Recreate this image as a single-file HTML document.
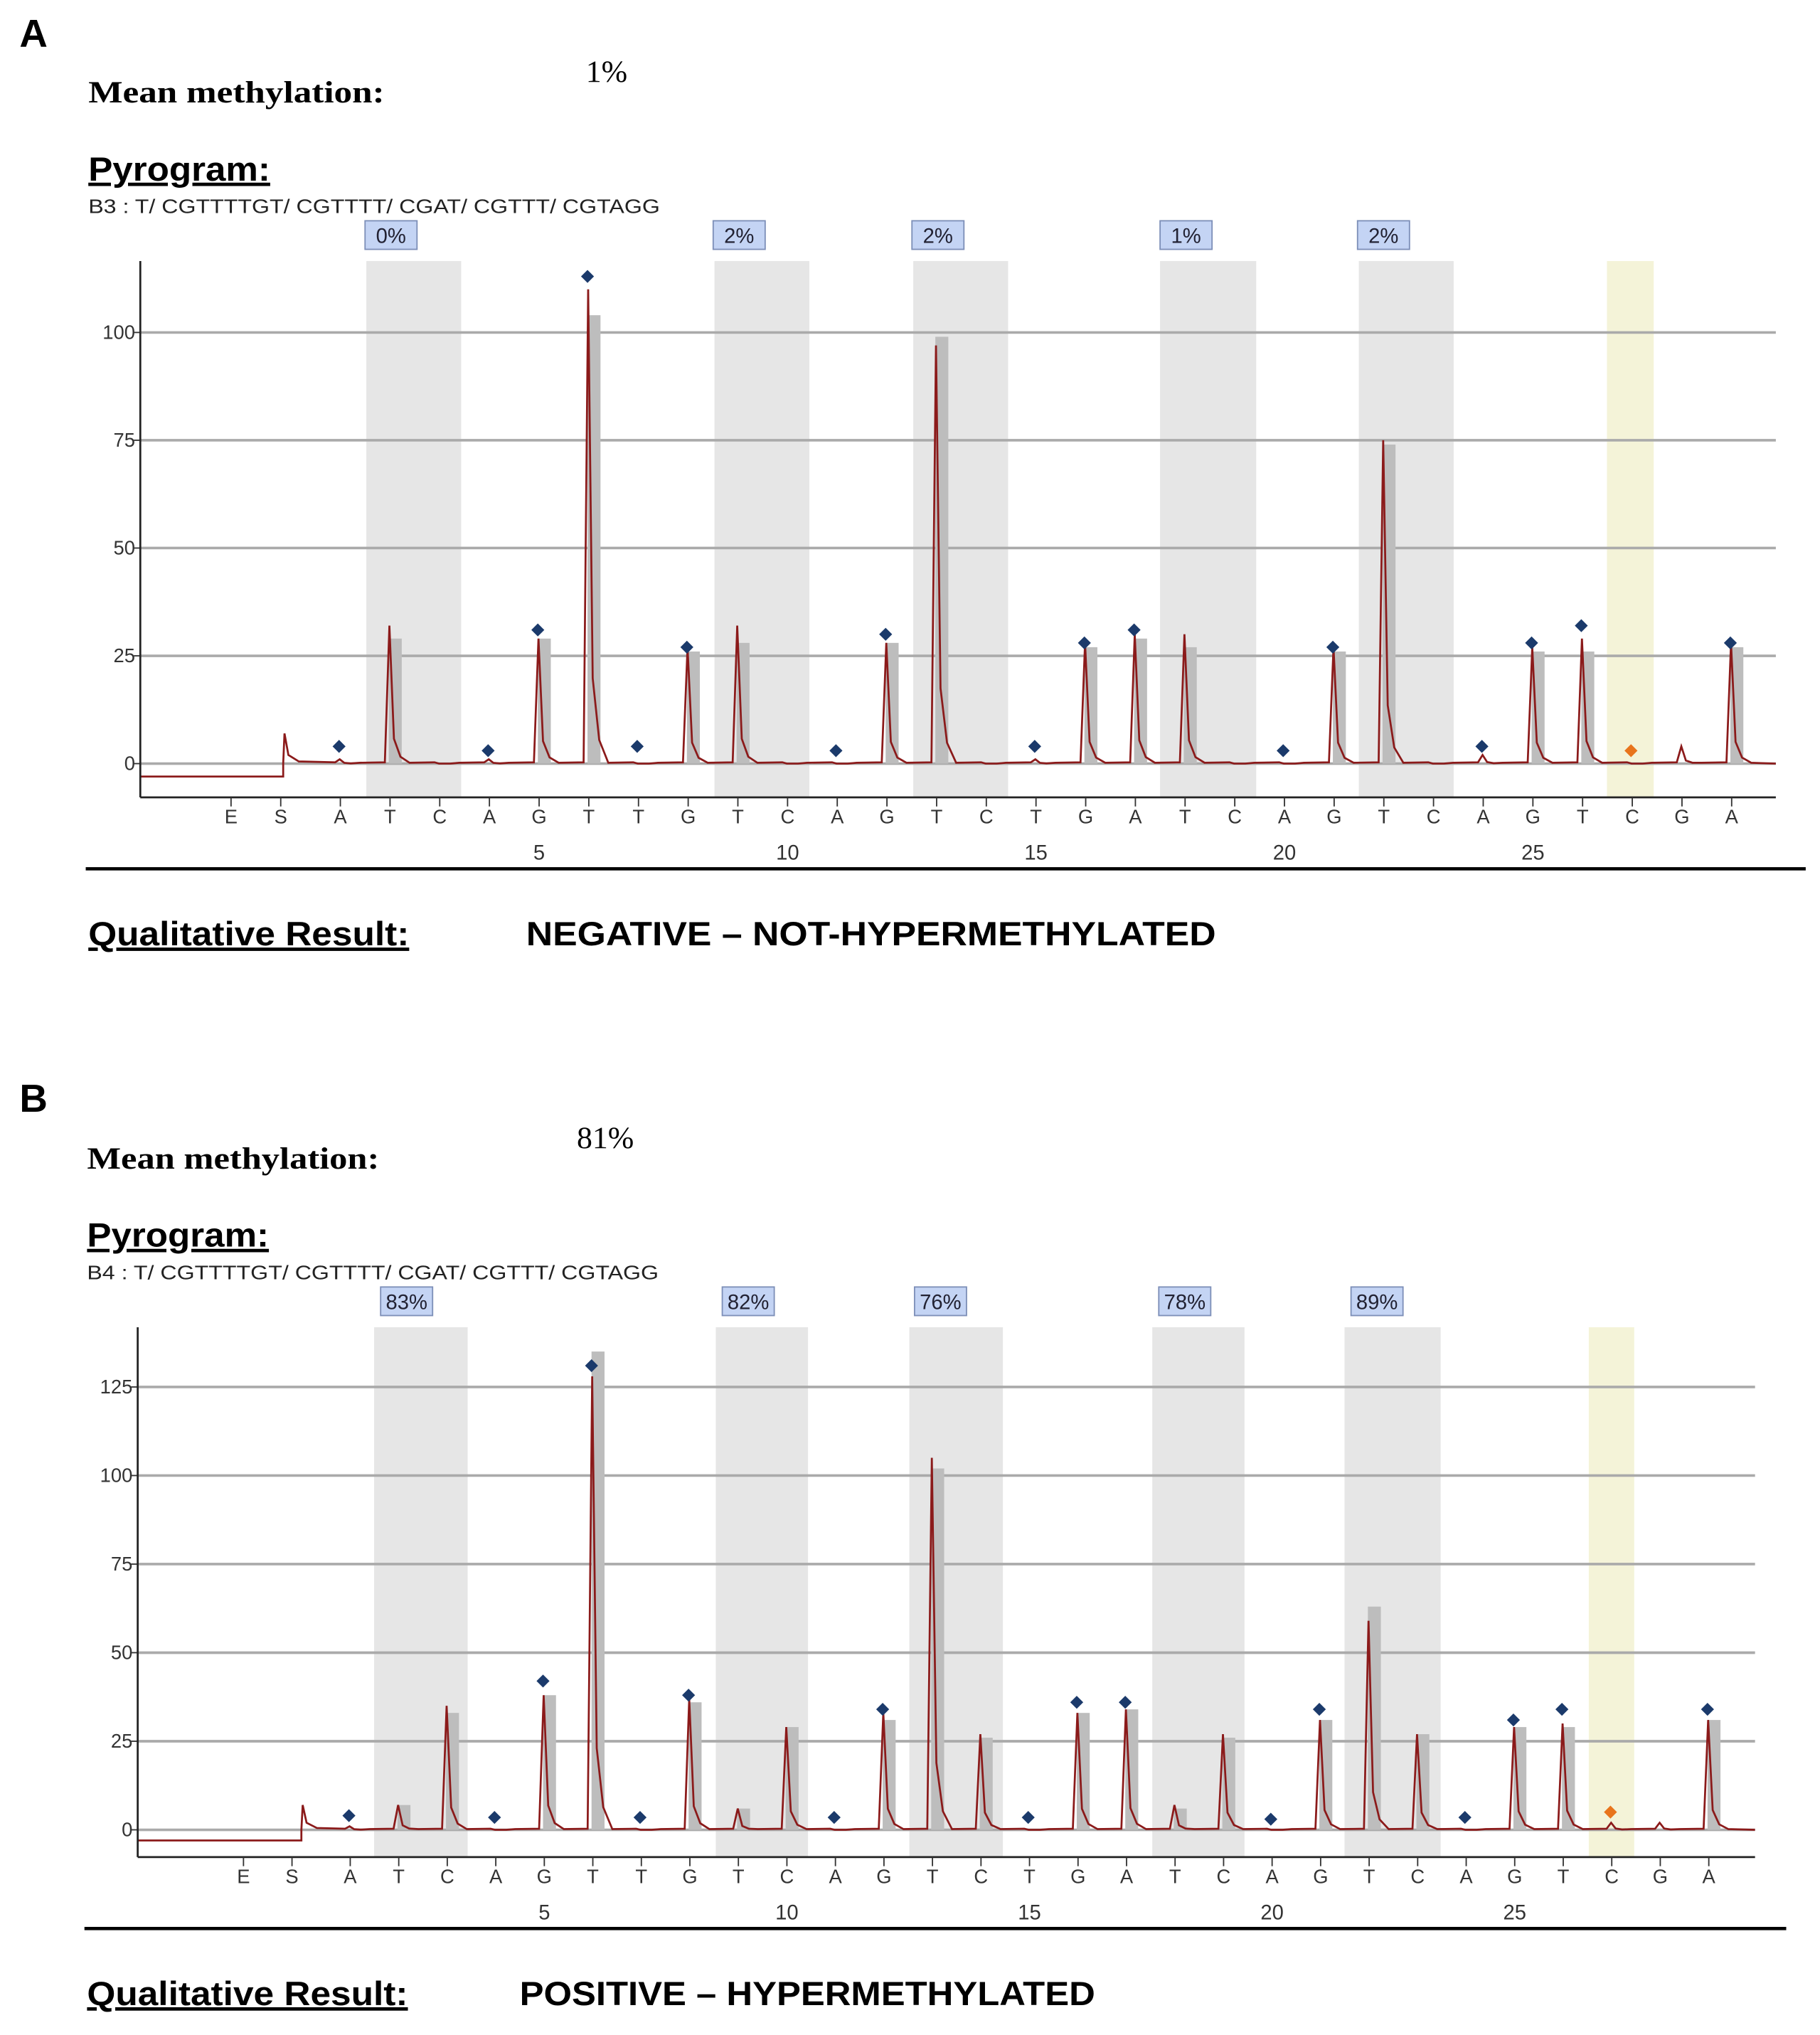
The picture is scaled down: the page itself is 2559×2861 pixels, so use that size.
<!DOCTYPE html>
<html><head><meta charset="utf-8"><style>
html,body{margin:0;padding:0;background:#fff;}
svg{display:block;}
</style></head><body>
<svg id="fig" width="2559" height="2861" viewBox="0 0 1401 1567" preserveAspectRatio="none" xmlns="http://www.w3.org/2000/svg"></svg>
<script>
// ---- shared data ----
const dispensation = ["E","S","A","T","C","A","G","T","T","G","T","C","A","G","T","C","T","G","A","T","C","A","G","T","C","A","G","T","C","G","A"];
const numberTicks = [5,10,15,20,25];
// Panel A
const traceA = [1,32,0,1,29,110,0,27,32,0,0,28,97,0,1,28,30,30,0,0,27,75,0,2,27,29,0,4,28];
const barA   = [0,29,0,0,29,104,0,26,28,0,0,28,99,0,0,27,29,27,0,0,26,74,0,0,26,26,0,0,27];
const diamA  = [4,null,null,3,31,113,4,27,null,null,3,30,null,null,4,28,31,null,null,3,27,null,null,4,28,32,3,null,28];
const pctA = ["0%","2%","2%","1%","2%"];
const yTicksA = [0,25,50,75,100];
// Panel B
const traceB = [1,7,35,0,38,128,0,37,6,29,0,33,105,27,0,33,34,7,27,0,31,59,27,0,29,30,2,2,31];
const barB   = [0,7,33,0,38,135,0,36,6,29,0,31,102,26,0,33,34,6,26,0,31,63,27,0,29,29,0,0,31];
const diamB  = [4,null,null,3.5,42,131,3.5,38,null,null,3.5,34,null,null,3.5,36,36,null,null,3,34,null,null,3.5,31,34,5,null,34];
const pctB = ["83%","82%","76%","78%","89%"];
const yTicksB = [0,25,50,75,100,125];

const NS="http://www.w3.org/2000/svg";
const svg=document.getElementById('fig');
function mk(tag,attrs,parent,text){const e=document.createElementNS(NS,tag);for(const k in attrs)e.setAttribute(k,attrs[k]);if(text!==undefined)e.textContent=text;(parent||svg).appendChild(e);return e;}

function panel(o){
  const g=mk('g',{});
  
  
  const X=n=> o.x5+(n-5)*o.step;
  const Y=v=> o.y0-v*o.pxPer25/25;
  let t=mk('text',{x:15,y:o.letterY,'font-family':'Liberation Sans, sans-serif','font-weight':'bold','font-size':30},g,o.letter);
  
  t=mk('text',{x:o.left,y:o.meanY,'font-family':'Liberation Serif, serif','font-weight':'bold','font-size':24,textLength:o.meanLen,lengthAdjust:'spacingAndGlyphs'},g,'Mean methylation:');
  
  t=mk('text',{x:o.meanValX,y:o.meanY-16,'font-family':'Liberation Serif, serif','font-size':24},g,o.meanVal);
  
  t=mk('text',{x:o.left,y:o.pyroY,'font-family':'Liberation Sans, sans-serif','font-weight':'bold','font-size':26,'text-decoration':'underline',textLength:140,lengthAdjust:'spacingAndGlyphs'},g,'Pyrogram:');
  
  t=mk('text',{x:o.left,y:o.pyroY+25,'font-family':'Liberation Sans, sans-serif','font-size':15,fill:'#222',textLength:440,lengthAdjust:'spacingAndGlyphs'},g,o.seq);
  
  o.bands.forEach((b,i)=>{
    const r=mk('rect',{x:b[0],y:o.top,width:b[1]-b[0],height:o.axisY-o.top,fill:'#e6e6e6'},g);
    
    const cx=o.pctX[i];
    const bx=mk('rect',{x:cx-20,y:o.top-31,width:40,height:22,fill:'#c4d4f4',stroke:'#7d8fb8','stroke-width':1},g);
    
    const tt=mk('text',{x:cx,y:o.top-14,'text-anchor':'middle','font-family':'Liberation Sans, sans-serif','font-size':16,fill:'#223'},g,o.pct[i]);
    
  });
  const yb=mk('rect',{x:o.yellow[0],y:o.top,width:o.yellow[1]-o.yellow[0],height:o.axisY-o.top,fill:'#f4f3d8'},g);
  
  o.yTicks.forEach(v=>{
    const l=mk('line',{x1:o.axisX,x2:o.right,y1:Y(v),y2:Y(v),stroke:'#aaa','stroke-width':2},g);
    
    mk('line',{x1:o.axisX-5,x2:o.axisX,y1:Y(v),y2:Y(v),stroke:'#333','stroke-width':1},g);
    const tl=mk('text',{x:o.axisX-4,y:Y(v)+5,'text-anchor':'end','font-family':'Liberation Sans, sans-serif','font-size':15,fill:'#333'},g,String(v));
    
  });
  o.bar.forEach((v,i)=>{ if(v>0){
    const x=X(i+1);
    const r=mk('rect',{x:x-1,y:Y(v),width:10,height:o.y0-Y(v),fill:'#bdbdbd'},g);
    
  }});
  let d='M'+o.axisX+' '+Y(-3)+' L'+(o.sX+2)+' '+Y(-3)+' L'+(o.sX+2)+' '+Y(0)+' L'+(o.sX+3)+' '+Y(7)+' L'+(o.sX+6)+' '+Y(2)+' L'+(o.sX+14)+' '+Y(0.5);
  o.trace.forEach((v,i)=>{
    const x=X(i+1);
    d+=' L'+(x-4)+' '+Y(0.3)+' L'+(x-0.5)+' '+Y(v)+' L'+(x+3)+' '+Y(v*0.18)+' L'+(x+8)+' '+Y(v*0.05)+' L'+(x+15)+' '+Y(0.2);
  });
  d+=' L'+o.right+' '+Y(0);
  const p=mk('path',{d:d,fill:'none',stroke:'#8b1a1a','stroke-width':1.5},g);
  
  o.diam.forEach((v,i)=>{ if(v!==null){
    const x=X(i+1),y=Y(v);
    const col=(i===26)?'#e8741c':'#1b3a6b';
    const dm=mk('polygon',{points:(x-1)+','+(y-5)+' '+(x+4)+','+y+' '+(x-1)+','+(y+5)+' '+(x-6)+','+y,fill:col},g);
    
  }});
  mk('line',{x1:o.axisX,x2:o.axisX,y1:o.top,y2:o.axisY,stroke:'#222','stroke-width':1.5},g);
  mk('line',{x1:o.axisX,x2:o.right,y1:o.axisY,y2:o.axisY,stroke:'#222','stroke-width':1.5},g);
  dispensation.forEach((L,k)=>{
    const n=k-1; const x=(n<=0)? X(n-0.2):X(n);
    mk('line',{x1:x,x2:x,y1:o.axisY,y2:o.axisY+7,stroke:'#333','stroke-width':1},g);
    const tl=mk('text',{x:x,y:o.axisY+20,'text-anchor':'middle','font-family':'Liberation Sans, sans-serif','font-size':15,fill:'#333'},g,L);
    
  });
  numberTicks.forEach(n=>{
    const tl=mk('text',{x:X(n),y:o.axisY+48,'text-anchor':'middle','font-family':'Liberation Sans, sans-serif','font-size':16,fill:'#333'},g,String(n));
    
  });
  const hl=mk('line',{x1:o.left-2,x2:o.lineR,y1:o.axisY+55,y2:o.axisY+55,stroke:'#000','stroke-width':2.5},g);
  
  t=mk('text',{x:o.left,y:o.axisY+114,'font-family':'Liberation Sans, sans-serif','font-weight':'bold','font-size':26,'text-decoration':'underline',textLength:247,lengthAdjust:'spacingAndGlyphs'},g,'Qualitative Result:');
  
  t=mk('text',{x:o.resX,y:o.axisY+114,'font-family':'Liberation Sans, sans-serif','font-weight':'bold','font-size':26,textLength:o.resLen,lengthAdjust:'spacingAndGlyphs'},g,o.result);
  
}

panel({name:'panel-a',letter:'A',letterY:36,left:68,meanY:79,meanLen:228,meanValX:451,meanVal:'1%',pyroY:139,
  seq:'B3 : T/ CGTTTTGT/ CGTTTT/ CGAT/ CGTTT/ CGTAGG',
  top:201,axisY:614,axisX:108,right:1367,y0:588,pxPer25:83,x5:415,step:38.25,sX:216,
  bands:[[282,355],[550,623],[703,776],[893,967],[1046,1119]],pctX:[301,569,722,913,1065],yellow:[1237,1273],
  pct:pctA,yTicks:yTicksA,trace:traceA,bar:barA,diam:diamA,lineR:1390,resX:405,resLen:531,result:'NEGATIVE – NOT-HYPERMETHYLATED'});
panel({name:'panel-b',letter:'B',letterY:856,left:67,meanY:900,meanLen:225,meanValX:444,meanVal:'81%',pyroY:960,
  seq:'B4 : T/ CGTTTTGT/ CGTTTT/ CGAT/ CGTTT/ CGTAGG',
  top:1022,axisY:1430,axisX:106,right:1351,y0:1409,pxPer25:68.2,x5:419,step:37.35,sX:230,
  bands:[[288,360],[551,622],[700,772],[887,958],[1035,1109]],pctX:[313,576,724,912,1060],yellow:[1223,1258],
  pct:pctB,yTicks:yTicksB,trace:traceB,bar:barB,diam:diamB,lineR:1375,resX:400,resLen:443,result:'POSITIVE – HYPERMETHYLATED'});
</script>
</body></html>
